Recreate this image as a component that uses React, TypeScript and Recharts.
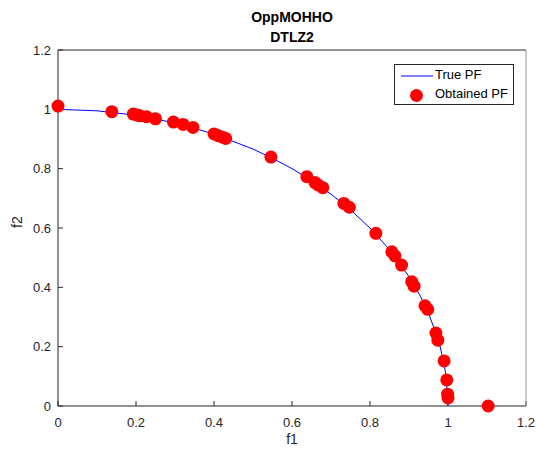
import { ScatterChart, Scatter, XAxis, YAxis, Legend, Label } from 'recharts';

const ticks = [0, 0.2, 0.4, 0.6, 0.8, 1, 1.2];

// true Pareto front
const trueX = [0, 0.1, 0.2, 0.3, 0.4, 0.5, 0.55, 0.6, 0.65, 0.7, 0.75, 0.8, 0.85, 0.9, 0.93, 0.95, 0.97, 0.98, 0.99, 0.995, 1];
const trueY = [1, 0.995, 0.98, 0.954, 0.917, 0.866, 0.835, 0.8, 0.76, 0.714, 0.661, 0.6, 0.527, 0.436, 0.368, 0.312, 0.243, 0.199, 0.141, 0.1, 0];

// obtained solutions
const obtX = [0, 0.138, 0.193, 0.202, 0.21, 0.227, 0.25, 0.296, 0.321, 0.346, 0.4, 0.411, 0.422, 0.43, 0.546, 0.638, 0.659, 0.667, 0.679, 0.733, 0.747, 0.815, 0.856, 0.864, 0.881, 0.907, 0.913, 0.941, 0.948, 0.969, 0.974, 0.99, 0.997, 0.999, 1.0, 1.103];
const obtY = [1.011, 0.992, 0.984, 0.981, 0.978, 0.975, 0.968, 0.957, 0.949, 0.939, 0.917, 0.911, 0.906, 0.902, 0.839, 0.773, 0.753, 0.745, 0.736, 0.683, 0.67, 0.582, 0.52, 0.506, 0.475, 0.419, 0.404, 0.338, 0.326, 0.246, 0.222, 0.152, 0.088, 0.04, 0.027, 0.0];

const truePF = trueX.map((x, i) => ({ f1: x, f2: trueY[i] }));
const obtained = obtX.map((x, i) => ({ f1: x, f2: obtY[i] }));

const font = 'Liberation Sans, Arial, Helvetica, sans-serif';
const axisColor = '#262626';

function LegendBox() {
    return (
        <div style={{ width: 120, height: 41, border: '1px solid #262626', background: '#fff', boxSizing: 'border-box', fontFamily: font, fontSize: 13, color: '#000', position: 'relative' }}>
            <svg width={36} height={20} style={{ position: 'absolute', left: 4, top: 1 }}>
                <line x1={2} y1={10} x2={34} y2={10} stroke="#0000ff" strokeWidth={1} />
            </svg>
            <div style={{ position: 'absolute', left: 40, top: 2 }}>True PF</div>
            <div style={{ position: 'absolute', left: 15, top: 24, width: 13, height: 13, borderRadius: '50%', background: '#ff0000' }} />
            <div style={{ position: 'absolute', left: 40, top: 21 }}>Obtained PF</div>
        </div>
    )
}

export default function App() {
    return (
        <div style={{ position: 'absolute', left: 0, top: 0, width: 536, height: 453, background: '#fff' }}>
            <div style={{ position: 'absolute', left: 58, width: 468, top: 7, textAlign: 'center', fontFamily: font, fontWeight: 'bold', fontSize: 14, lineHeight: '20px', color: '#000' }}>
                <div>OppMOHHO</div>
                <div>DTLZ2</div>
            </div>
            <ScatterChart width={536} height={453} margin={{ top: 49, right: 9, bottom: 7, left: 18 }}>
                <XAxis
                    xAxisId="bottom"
                    type="number"
                    dataKey="f1"
                    domain={[0, 1.2]}
                    ticks={ticks}
                    height={40}
                    tickSize={-5}
                    tickMargin={17}
                    stroke={axisColor}
                    tick={{ fill: axisColor, fontSize: 13, fontFamily: font }}
                >
                    <Label value="f1" position="insideBottom" offset={2} fill={axisColor} fontSize={14} fontFamily={font} />
                </XAxis>
                <XAxis
                    xAxisId="top"
                    orientation="top"
                    type="number"
                    dataKey="f1"
                    domain={[0, 1.2]}
                    ticks={ticks}
                    height={1}
                    tickSize={-5}
                    stroke={axisColor}
                    tickFormatter={() => ''}
                />
                <YAxis
                    yAxisId="left"
                    type="number"
                    dataKey="f2"
                    domain={[0, 1.2]}
                    ticks={ticks}
                    width={40}
                    tickSize={-5}
                    tickMargin={12}
                    stroke={axisColor}
                    tick={{ fill: axisColor, fontSize: 13, fontFamily: font }}
                >
                    <Label value="f2" angle={-90} position="insideLeft" offset={-1} fill={axisColor} fontSize={14} fontFamily={font} />
                </YAxis>
                <YAxis
                    yAxisId="right"
                    orientation="right"
                    type="number"
                    dataKey="f2"
                    domain={[0, 1.2]}
                    ticks={ticks}
                    width={1}
                    tickSize={-5}
                    stroke="#9a9a9a"
                    tickLine={{ stroke: axisColor }}
                    tickFormatter={() => ''}
                />
                <Legend
                    layout="horizontal"
                    verticalAlign="middle"
                    align="center"
                    wrapperStyle={{ position: 'absolute', left: 394, top: 64, width: 120 }}
                    content={() => <LegendBox />}
                />
                <Scatter
                    name="True PF"
                    data={truePF}
                    xAxisId="bottom"
                    yAxisId="left"
                    fill="#0000ff"
                    line={{ stroke: '#0000ff', strokeWidth: 1 }}
                    shape={() => <g />}
                    legendType="line"
                    isAnimationActive={false}
                />
                <Scatter
                    name="Obtained PF"
                    data={obtained}
                    xAxisId="bottom"
                    yAxisId="left"
                    fill="#ff0000"
                    shape={(p: any) => <circle cx={p.cx} cy={p.cy} r={6.5} fill="#ff0000" />}
                    isAnimationActive={false}
                />
            </ScatterChart>
        </div>
    )
}
